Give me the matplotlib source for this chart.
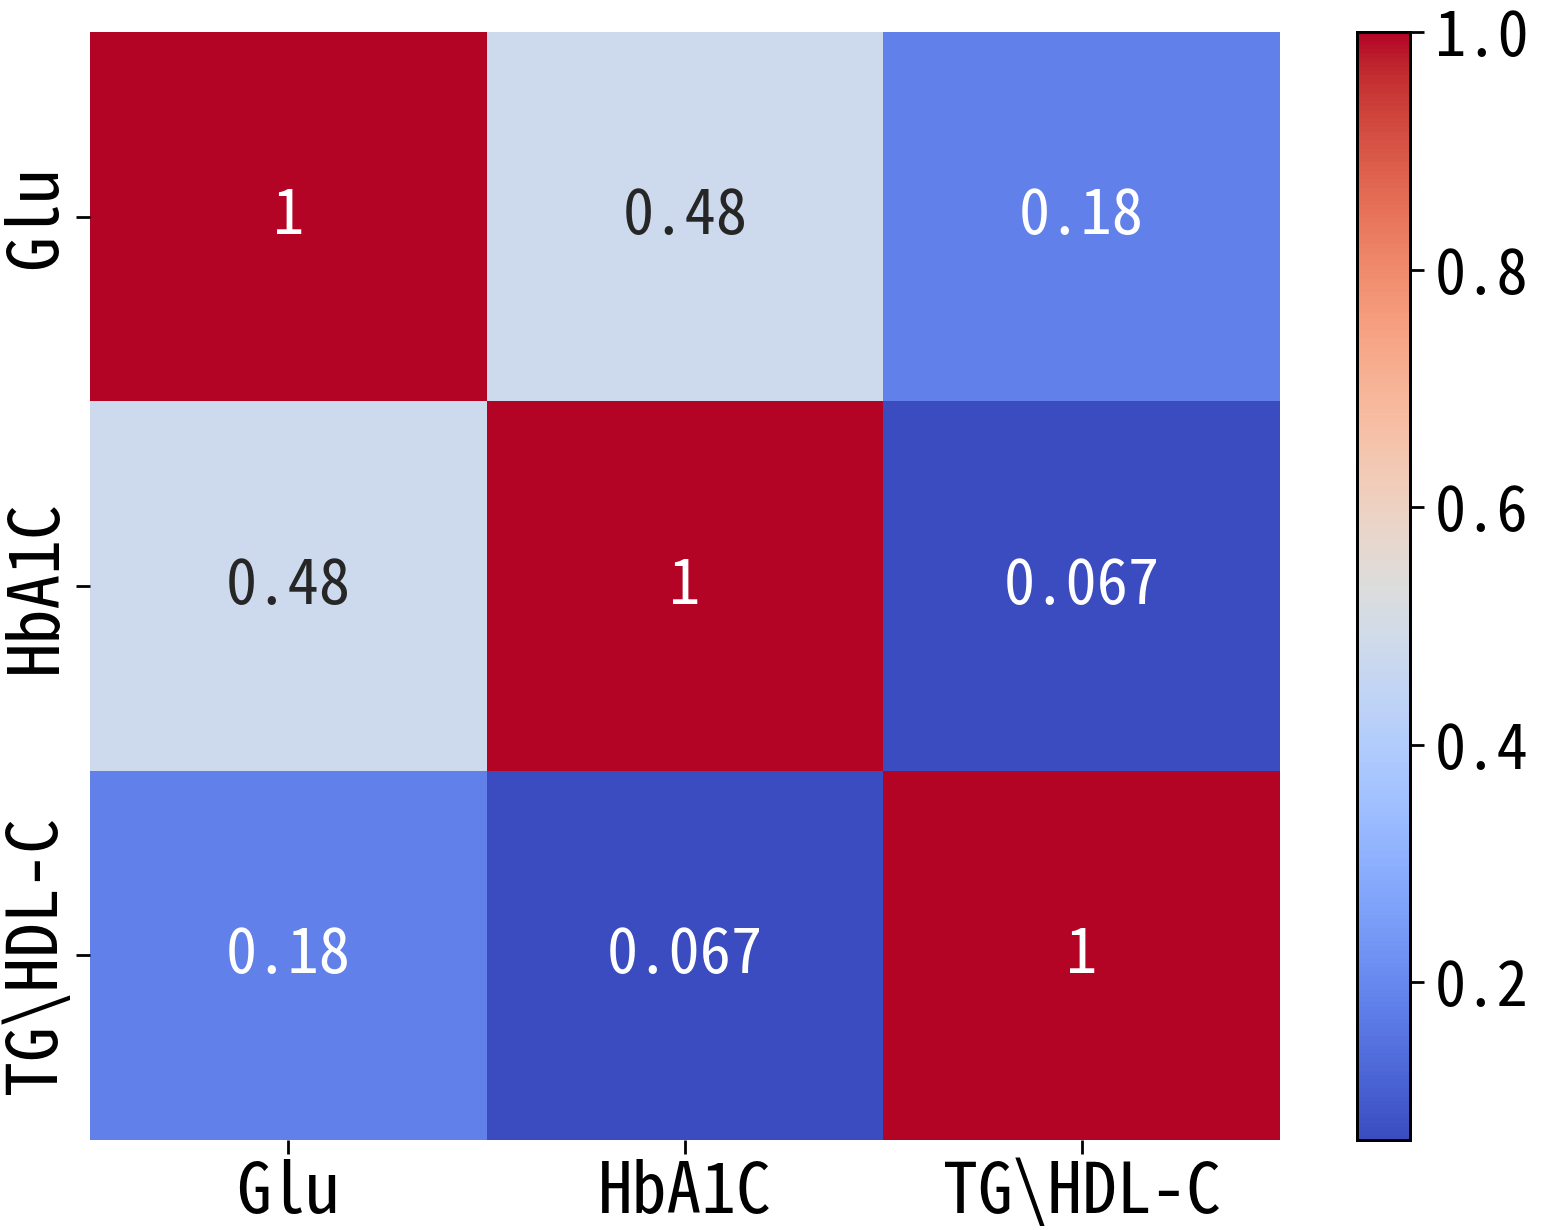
import numpy as np
import pandas as pd
import matplotlib
matplotlib.use('Agg')
import matplotlib.pyplot as plt
import seaborn as sns

labels = ['Glu', 'HbA1C', 'TG\\HDL-C']
row_glu = [1.0, 0.48, 0.18]
row_hba1c = [0.48, 1.0, 0.067]
row_tg = [0.18, 0.067, 1.0]

corr = pd.DataFrame([row_glu, row_hba1c, row_tg], index=labels, columns=labels)

plt.rcParams['font.family'] = ['Noto Sans Mono CJK SC', 'Noto Sans CJK SC', 'DejaVu Sans']
plt.rcParams['axes.unicode_minus'] = False

fig = plt.figure(figsize=(15.42, 12.30), dpi=100)
ax = fig.add_axes([90/1542, 1 - 1140/1230, 1190/1542, 1108/1230])
cax = fig.add_axes([1357/1542, 1 - 1140/1230, 53/1542, 1108/1230])

sns.heatmap(corr, annot=True, cmap='coolwarm', ax=ax, cbar_ax=cax,
            annot_kws={'fontsize': 45})

ax.tick_params(axis='both', labelsize=50, length=10, width=2)
ax.set_yticklabels(labels, rotation=90, va='center')
ax.set_xticklabels(labels, rotation=0)

cax.tick_params(labelsize=45, length=10, width=2, pad=8)
for s in cax.spines.values():
    s.set_visible(True)
    s.set_linewidth(2)

fig.savefig('out.png', dpi=100)
